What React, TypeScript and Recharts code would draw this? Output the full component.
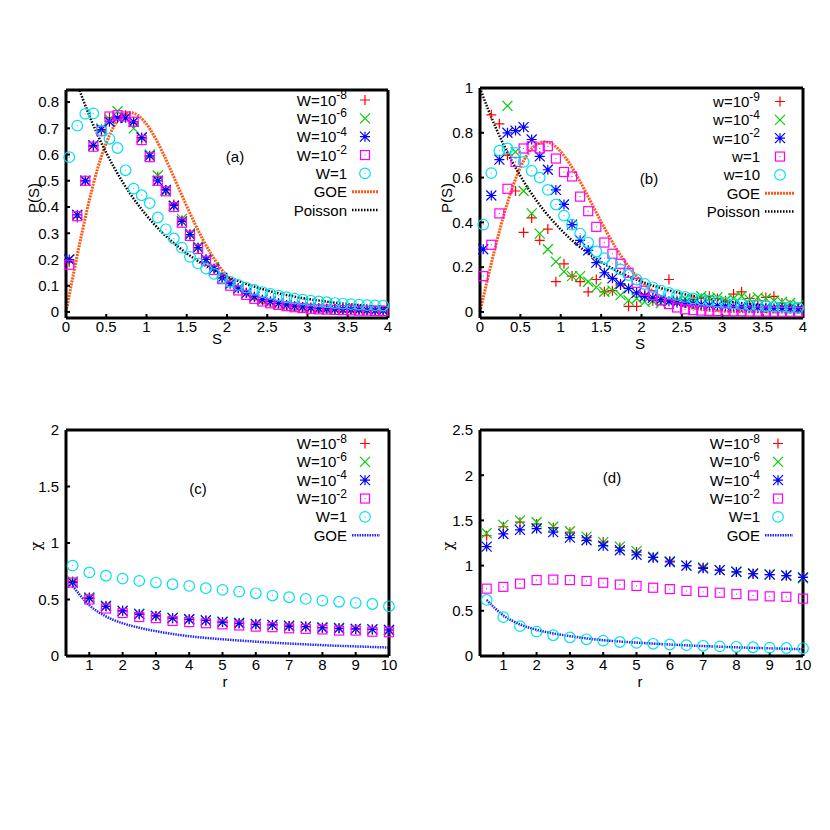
import React from 'react';
import { ComposedChart, Scatter, Line, XAxis, YAxis, Customized } from 'recharts';

const FONT = '"Liberation Sans", Arial, Helvetica, sans-serif';

const RED = '#ff0000';
const GREEN = '#00d000';
const BLUE = '#0000ff';
const MAGENTA = '#ff00ff';
const CYAN = '#00e0f0';
const ORANGE = '#ff5a14';
const GOE_BLUE = '#2222ff';

// level spacing bins, panels (a) and (b)
const S_BINS = [0.04, 0.14, 0.24, 0.34, 0.44, 0.54, 0.64, 0.74, 0.84, 0.94, 1.04, 1.14, 1.24, 1.34, 1.44, 1.54, 1.64, 1.74, 1.84, 1.94,
  2.04, 2.14, 2.24, 2.34, 2.44, 2.54, 2.64, 2.74, 2.84, 2.94, 3.04, 3.14, 3.24, 3.34, 3.44, 3.54, 3.64, 3.74, 3.84, 3.94];

// reference curves
const CURVE_S = [0, 0.1, 0.2, 0.3, 0.4, 0.5, 0.6, 0.7, 0.8, 0.9, 1, 1.1, 1.2, 1.3, 1.4, 1.5, 1.6, 1.7, 1.8, 1.9, 2,
  2.1, 2.2, 2.3, 2.4, 2.5, 2.6, 2.7, 2.8, 2.9, 3, 3.1, 3.2, 3.3, 3.4, 3.5, 3.6, 3.7, 3.8, 3.9, 4];
const GOE_P = [0, 0.156, 0.304, 0.439, 0.554, 0.645, 0.71, 0.748, 0.76, 0.748, 0.716, 0.668, 0.608, 0.542, 0.472, 0.403, 0.337, 0.276, 0.222, 0.175, 0.136,
  0.103, 0.077, 0.057, 0.041, 0.029, 0.02, 0.014, 0.009, 0.006, 0.004, 0.0025, 0.0016, 0.001, 0.0006, 0.0004, 0.0002, 0.0001, 0.0001, 0, 0];
const POISSON_P = [1, 0.905, 0.819, 0.741, 0.67, 0.607, 0.549, 0.497, 0.449, 0.407, 0.368, 0.333, 0.301, 0.273, 0.247, 0.223, 0.202, 0.183, 0.165, 0.15, 0.135,
  0.122, 0.111, 0.1, 0.091, 0.082, 0.074, 0.067, 0.061, 0.055, 0.05, 0.045, 0.041, 0.037, 0.033, 0.03, 0.027, 0.025, 0.022, 0.02, 0.018];
// where the Poisson curve enters the frame of panel (a)
const POISSON_A_ENTRY = { x: 0.17, y: 0.844 };

// panel (a)
const A_W8 = [0.19, 0.36, 0.5, 0.63, 0.69, 0.74, 0.745, 0.75, 0.72, 0.66, 0.59, 0.515, 0.465, 0.41, 0.35, 0.295, 0.245, 0.2, 0.165, 0.13,
  0.11, 0.09, 0.072, 0.058, 0.047, 0.04, 0.033, 0.027, 0.022, 0.019, 0.016, 0.014, 0.012, 0.011, 0.01, 0.009, 0.008, 0.007, 0.006, 0.006];
const A_W6 = [0.2, 0.37, 0.5, 0.635, 0.7, 0.735, 0.765, 0.74, 0.7, 0.665, 0.6, 0.52, 0.46, 0.405, 0.355, 0.3, 0.25, 0.195, 0.17, 0.13,
  0.105, 0.088, 0.07, 0.057, 0.046, 0.039, 0.032, 0.026, 0.022, 0.018, 0.016, 0.013, 0.012, 0.01, 0.009, 0.008, 0.007, 0.007, 0.006, 0.005];
const A_W4 = [0.2, 0.37, 0.5, 0.635, 0.695, 0.725, 0.74, 0.74, 0.725, 0.665, 0.595, 0.5, 0.465, 0.405, 0.345, 0.295, 0.245, 0.2, 0.165, 0.13,
  0.108, 0.09, 0.072, 0.058, 0.047, 0.04, 0.033, 0.027, 0.022, 0.019, 0.016, 0.014, 0.012, 0.011, 0.01, 0.009, 0.008, 0.007, 0.006, 0.006];
const A_W2 = [0.18, 0.365, 0.5, 0.63, 0.69, 0.745, 0.75, 0.745, 0.725, 0.655, 0.59, 0.5, 0.46, 0.4, 0.34, 0.29, 0.24, 0.195, 0.16, 0.125,
  0.1, 0.082, 0.065, 0.05, 0.04, 0.033, 0.027, 0.022, 0.018, 0.015, 0.012, 0.01, 0.009, 0.008, 0.007, 0.006, 0.005, 0.005, 0.004, 0.004];
const A_W1 = [0.59, 0.71, 0.755, 0.757, 0.69, 0.66, 0.625, 0.54, 0.47, 0.445, 0.415, 0.36, 0.315, 0.28, 0.245, 0.21, 0.185, 0.165, 0.145, 0.13,
  0.115, 0.103, 0.093, 0.084, 0.076, 0.069, 0.062, 0.056, 0.051, 0.047, 0.043, 0.04, 0.037, 0.034, 0.032, 0.03, 0.028, 0.026, 0.025, 0.024];

// panel (b)
const B_W9 = [null, 0.88, 0.84, 0.7, 0.54, 0.355, 0.42, 0.32, 0.37, 0.135, 0.215, 0.16, 0.135, 0.09, 0.145, 0.09, 0.095, 0.12, 0.025, 0.025,
  0.08, 0.05, 0.05, 0.145, 0.05, 0.04, 0.055, 0.06, 0.07, 0.06, 0.05, 0.08, 0.09, 0.06, 0.05, 0.065, 0.07, 0.04, 0.03, 0.02];
const B_W4 = [null, null, null, 0.92, 0.715, 0.54, 0.44, 0.35, 0.28, 0.225, 0.18, 0.16, 0.16, 0.135, 0.11, 0.09, 0.095, 0.075, 0.052, 0.06,
  0.045, 0.05, 0.04, 0.045, 0.05, 0.06, 0.055, 0.07, 0.06, 0.065, 0.05, 0.06, 0.07, 0.055, 0.065, 0.06, 0.05, 0.045, 0.04, 0.03];
const B_W2 = [0.28, 0.52, 0.68, 0.8, 0.81, 0.825, 0.77, 0.695, 0.635, 0.545, 0.48, 0.39, 0.32, 0.275, 0.22, 0.175, 0.15, 0.125, 0.105, 0.085,
  0.07, 0.063, 0.055, 0.048, 0.043, 0.04, 0.036, 0.033, 0.03, 0.028, 0.026, 0.024, 0.022, 0.02, 0.019, 0.018, 0.017, 0.016, 0.015, 0.014];
const B_W1 = [0.16, 0.3, 0.44, 0.55, 0.67, 0.73, 0.74, 0.73, 0.74, 0.685, 0.625, 0.605, 0.515, 0.45, 0.38, 0.31, 0.26, 0.215, 0.175, 0.13,
  0.095, 0.075, 0.052, 0.035, 0.02, 0.012, 0.008, 0.006, 0.005, 0.004, 0.004, 0.003, 0.003, 0.002, 0.002, 0.002, 0.001, 0.001, 0.001, 0.001];
const B_W10 = [0.39, 0.62, 0.72, 0.73, 0.71, 0.67, 0.63, 0.6, 0.545, 0.48, 0.43, 0.39, 0.35, 0.31, 0.27, 0.24, 0.215, 0.19, 0.165, 0.145,
  0.125, 0.11, 0.095, 0.085, 0.075, 0.067, 0.06, 0.055, 0.05, 0.045, 0.04, 0.037, 0.034, 0.03, 0.028, 0.026, 0.024, 0.022, 0.02, 0.018];

// panels (c) and (d): chi(r)
const R_VALS = [0.5, 1, 1.5, 2, 2.5, 3, 3.5, 4, 4.5, 5, 5.5, 6, 6.5, 7, 7.5, 8, 8.5, 9, 9.5, 10];
const GOE_CHI = [0.62, 0.45, 0.35, 0.29, 0.25, 0.22, 0.195, 0.175, 0.16, 0.148, 0.137, 0.127, 0.118, 0.11, 0.103, 0.096, 0.09, 0.085, 0.08, 0.075];

const C_W8 = [0.66, 0.52, 0.44, 0.4, 0.37, 0.355, 0.335, 0.325, 0.315, 0.3, 0.29, 0.28, 0.275, 0.265, 0.26, 0.25, 0.245, 0.24, 0.235, 0.23];
const C_W6 = [0.66, 0.52, 0.445, 0.4, 0.375, 0.355, 0.34, 0.325, 0.315, 0.305, 0.295, 0.285, 0.275, 0.27, 0.26, 0.255, 0.25, 0.24, 0.235, 0.23];
const C_W4 = [0.65, 0.51, 0.44, 0.4, 0.37, 0.355, 0.335, 0.325, 0.315, 0.3, 0.29, 0.28, 0.275, 0.265, 0.26, 0.25, 0.245, 0.24, 0.235, 0.23];
const C_W2 = [0.65, 0.5, 0.42, 0.38, 0.345, 0.335, 0.31, 0.3, 0.29, 0.28, 0.27, 0.26, 0.255, 0.245, 0.24, 0.235, 0.225, 0.225, 0.215, 0.21];
const C_W1 = [0.8, 0.74, 0.71, 0.685, 0.665, 0.65, 0.635, 0.62, 0.6, 0.585, 0.57, 0.555, 0.535, 0.52, 0.505, 0.49, 0.48, 0.47, 0.46, 0.44];

const D_W8 = [1.33, 1.43, 1.48, 1.46, 1.42, 1.37, 1.31, 1.26, 1.2, 1.15, 1.09, 1.05, 1.0, 0.98, 0.95, 0.93, 0.91, 0.9, 0.89, 0.87];
const D_W6 = [1.36, 1.45, 1.5, 1.48, 1.43, 1.38, 1.32, 1.26, 1.21, 1.16, 1.1, 1.05, 1.0, 0.98, 0.95, 0.935, 0.915, 0.905, 0.89, 0.86];
const D_W4 = [1.21, 1.35, 1.395, 1.41, 1.37, 1.31, 1.28, 1.22, 1.17, 1.12, 1.09, 1.04, 1.0, 0.97, 0.95, 0.93, 0.91, 0.9, 0.89, 0.87];
const D_W2 = [0.745, 0.765, 0.8, 0.84, 0.845, 0.84, 0.83, 0.81, 0.79, 0.775, 0.755, 0.74, 0.72, 0.71, 0.7, 0.685, 0.67, 0.66, 0.655, 0.635];
const D_W1 = [0.62, 0.43, 0.33, 0.27, 0.23, 0.205, 0.185, 0.17, 0.155, 0.145, 0.135, 0.127, 0.12, 0.113, 0.107, 0.102, 0.097, 0.093, 0.089, 0.085];

// ticks
const S_TICKS = [0, 0.5, 1, 1.5, 2, 2.5, 3, 3.5, 4];
const PA_TICKS = [0, 0.1, 0.2, 0.3, 0.4, 0.5, 0.6, 0.7, 0.8];
const PB_TICKS = [0, 0.2, 0.4, 0.6, 0.8, 1];
const R_TICKS = [1, 2, 3, 4, 5, 6, 7, 8, 9, 10];
const CHI_C_TICKS = [0, 0.5, 1, 1.5, 2];
const CHI_D_TICKS = [0, 0.5, 1, 1.5, 2, 2.5];

type Pt = { x: number; y: number };
type Kind = 'plus' | 'cross' | 'star' | 'square' | 'circle';

const zip = (xs: number[], ys: (number | null)[]): Pt[] =>
  xs.map((x, i) => ({ x, y: ys[i] as number })).filter((p) => p.y != null);

const drawMarker = (kind: Kind, color: string, cx: number, cy: number, key?: string) => {
  const h = 5;
  const sw = 1.2;
  const plus = `M${cx - h},${cy}H${cx + h}M${cx},${cy - h}V${cy + h}`;
  const cross = `M${cx - h},${cy - h}L${cx + h},${cy + h}M${cx - h},${cy + h}L${cx + h},${cy - h}`;
  if (kind === 'plus') return <path key={key} d={plus} stroke={color} strokeWidth={sw} fill="none" />;
  if (kind === 'cross') return <path key={key} d={cross} stroke={color} strokeWidth={sw} fill="none" />;
  if (kind === 'star') return <path key={key} d={plus + cross} stroke={color} strokeWidth={sw} fill="none" />;
  if (kind === 'square')
    return (
      <g key={key}>
        <rect x={cx - 4.5} y={cy - 4.5} width={9} height={9} stroke={color} strokeWidth={sw} fill="none" />
        <circle cx={cx} cy={cy} r={0.6} fill={color} />
      </g>
    );
  return (
    <g key={key}>
      <circle cx={cx} cy={cy} r={5.3} stroke={color} strokeWidth={sw} fill="none" />
      <circle cx={cx} cy={cy} r={0.6} fill={color} />
    </g>
  );
};

const shapeOf = (kind: Kind, color: string) => (props: any) => {
  if (props.cx == null || props.cy == null) return <g />;
  return drawMarker(kind, color, props.cx, props.cy);
};

type Series = { label: string; sup?: string; kind: Kind; color: string; data: Pt[] };
type Curve = { label: string; color: string; width: number; dash: string; data: Pt[] };

type PanelProps = {
  box: { left: number; top: number; right: number; bottom: number };
  xDomain: [number, number];
  yDomain: [number, number];
  xTicks: number[];
  yTicks: number[];
  series: Series[];
  curves: Curve[];
  legend: { textRight: number; mark: number; lineFrom: number; lineTo: number; top: number };
  tag: { text: string; x: number; y: number };
  yLabel: { text: string; x: number; y: number; font?: string };
  xLabel: { text: string; x: number; y: number };
};

const textStyle = { fill: '#000', fontSize: 15, fontFamily: FONT };
const frame = { stroke: '#000', strokeWidth: 3 };
const tickMark = { stroke: '#000', strokeWidth: 2 };
const noLabel = () => <g />;

const Panel = ({ box, xDomain, yDomain, xTicks, yTicks, series, curves, legend, tag, yLabel, xLabel }: PanelProps) => {
  const rowH = 18.35;
  const overlay = () => (
    <g fontFamily={FONT} fontSize={15} fill="#000">
      {series.map((s, i) => {
        const y = legend.top + i * rowH;
        return (
          <g key={s.label + (s.sup || '')}>
            <text x={legend.textRight} y={y} textAnchor="end" dominantBaseline="central">
              {s.label}
              {s.sup && (
                <tspan dy={-5} fontSize={12}>
                  {s.sup}
                </tspan>
              )}
            </text>
            {drawMarker(s.kind, s.color, legend.mark, y)}
          </g>
        );
      })}
      {curves.map((c, j) => {
        const y = legend.top + (series.length + j) * rowH;
        return (
          <g key={c.label}>
            <text x={legend.textRight} y={y} textAnchor="end" dominantBaseline="central">
              {c.label}
            </text>
            <line x1={legend.lineFrom} x2={legend.lineTo} y1={y} y2={y} stroke={c.color} strokeWidth={c.width} strokeDasharray={c.dash} />
          </g>
        );
      })}
      <text x={tag.x} y={tag.y} textAnchor="middle" dominantBaseline="central">
        {tag.text}
      </text>
      <text
        x={yLabel.x}
        y={yLabel.y}
        textAnchor="middle"
        dominantBaseline="central"
        fontFamily={yLabel.font || FONT}
        transform={`rotate(-90 ${yLabel.x} ${yLabel.y})`}
      >
        {yLabel.text}
      </text>
      <text x={xLabel.x} y={xLabel.y} textAnchor="middle" dominantBaseline="central">
        {xLabel.text}
      </text>
    </g>
  );

  // the axes take 1px each, so the margins are 1px smaller than the frame position
  return (
    <div style={{ position: 'absolute', left: 0, top: 0 }}>
      <ComposedChart
        width={830}
        height={830}
        margin={{ top: box.top - 1, left: box.left - 1, right: 830 - box.right - 1, bottom: 830 - box.bottom - 1 }}
      >
        <XAxis dataKey="x" type="number" domain={xDomain} ticks={xTicks} interval={0} height={1}
          tickSize={-4} tickMargin={7} axisLine={frame} tickLine={tickMark} tick={textStyle} />
        <XAxis xAxisId="top" orientation="top" dataKey="x" type="number" domain={xDomain} ticks={xTicks} interval={0} height={1}
          tickSize={-4} axisLine={frame} tickLine={tickMark} tick={noLabel} />
        <YAxis dataKey="y" type="number" domain={yDomain} ticks={yTicks} interval={0} width={1}
          tickSize={-4} tickMargin={11} axisLine={frame} tickLine={tickMark} tick={textStyle} />
        <YAxis yAxisId="right" orientation="right" type="number" domain={yDomain} ticks={yTicks} interval={0} width={1}
          tickSize={-4} axisLine={frame} tickLine={tickMark} tick={noLabel} />
        {series.map((s) => (
          <Scatter key={s.label + (s.sup || '')} data={s.data} dataKey="y" shape={shapeOf(s.kind, s.color)} isAnimationActive={false} />
        ))}
        {curves.map((c) => (
          <Line key={c.label} data={c.data} dataKey="y" type="monotone" stroke={c.color} strokeWidth={c.width}
            strokeDasharray={c.dash} dot={false} activeDot={false} isAnimationActive={false} />
        ))}
        <Customized component={overlay} />
      </ComposedChart>
    </div>
  );
};

const goeCurve = (color: string, data: Pt[]): Curve => ({ label: 'GOE', color, width: 3, dash: '2 1', data });

const App = () => {
  const aY: [number, number] = [-0.023, 0.846];
  const poissonA = [POISSON_A_ENTRY, ...zip(CURVE_S, POISSON_P).filter((p) => p.y <= aY[1])];

  return (
    <div style={{ position: 'absolute', left: 0, top: 0, width: 830, height: 830, background: '#fff' }}>
      <Panel
        box={{ left: 66, top: 90, right: 388, bottom: 318 }}
        xDomain={[0, 4]}
        yDomain={aY}
        xTicks={S_TICKS}
        yTicks={PA_TICKS}
        series={[
          { label: 'W=10', sup: '-8', kind: 'plus', color: RED, data: zip(S_BINS, A_W8) },
          { label: 'W=10', sup: '-6', kind: 'cross', color: GREEN, data: zip(S_BINS, A_W6) },
          { label: 'W=10', sup: '-4', kind: 'star', color: BLUE, data: zip(S_BINS, A_W4) },
          { label: 'W=10', sup: '-2', kind: 'square', color: MAGENTA, data: zip(S_BINS, A_W2) },
          { label: 'W=1', kind: 'circle', color: CYAN, data: zip(S_BINS, A_W1) },
        ]}
        curves={[
          goeCurve(ORANGE, zip(CURVE_S, GOE_P)),
          { label: 'Poisson', color: '#000', width: 2.5, dash: '1.5 1.5', data: poissonA },
        ]}
        legend={{ textRight: 347, mark: 365, lineFrom: 352, lineTo: 378, top: 100 }}
        tag={{ text: '(a)', x: 235, y: 156 }}
        yLabel={{ text: 'P(S)', x: 33, y: 198 }}
        xLabel={{ text: 'S', x: 217, y: 338 }}
      />
      <Panel
        box={{ left: 480, top: 88, right: 803, bottom: 318 }}
        xDomain={[0, 4]}
        yDomain={[-0.027, 1]}
        xTicks={S_TICKS}
        yTicks={PB_TICKS}
        series={[
          { label: 'w=10', sup: '-9', kind: 'plus', color: RED, data: zip(S_BINS, B_W9) },
          { label: 'w=10', sup: '-4', kind: 'cross', color: GREEN, data: zip(S_BINS, B_W4) },
          { label: 'w=10', sup: '-2', kind: 'star', color: BLUE, data: zip(S_BINS, B_W2) },
          { label: 'w=1', kind: 'square', color: MAGENTA, data: zip(S_BINS, B_W1) },
          { label: 'w=10', kind: 'circle', color: CYAN, data: zip(S_BINS, B_W10) },
        ]}
        curves={[
          goeCurve(ORANGE, zip(CURVE_S, GOE_P)),
          { label: 'Poisson', color: '#000', width: 2.5, dash: '1.5 1.5', data: zip(CURVE_S, POISSON_P) },
        ]}
        legend={{ textRight: 760, mark: 780, lineFrom: 765, lineTo: 794, top: 101.5 }}
        tag={{ text: '(b)', x: 649, y: 178 }}
        yLabel={{ text: 'P(S)', x: 446, y: 198 }}
        xLabel={{ text: 'S', x: 640, y: 343 }}
      />
      <Panel
        box={{ left: 66, top: 430, right: 389, bottom: 656 }}
        xDomain={[0.3, 10]}
        yDomain={[0, 2]}
        xTicks={R_TICKS}
        yTicks={CHI_C_TICKS}
        series={[
          { label: 'W=10', sup: '-8', kind: 'plus', color: RED, data: zip(R_VALS, C_W8) },
          { label: 'W=10', sup: '-6', kind: 'cross', color: GREEN, data: zip(R_VALS, C_W6) },
          { label: 'W=10', sup: '-4', kind: 'star', color: BLUE, data: zip(R_VALS, C_W4) },
          { label: 'W=10', sup: '-2', kind: 'square', color: MAGENTA, data: zip(R_VALS, C_W2) },
          { label: 'W=1', kind: 'circle', color: CYAN, data: zip(R_VALS, C_W1) },
        ]}
        curves={[{ label: 'GOE', color: GOE_BLUE, width: 2.5, dash: '1.5 1', data: zip(R_VALS, GOE_CHI) }]}
        legend={{ textRight: 347, mark: 365, lineFrom: 352, lineTo: 380, top: 443.5 }}
        tag={{ text: '(c)', x: 198, y: 488 }}
        yLabel={{ text: 'χ', x: 36, y: 546, font: '"DejaVu Serif", serif' }}
        xLabel={{ text: 'r', x: 225, y: 681 }}
      />
      <Panel
        box={{ left: 480, top: 430, right: 803, bottom: 656 }}
        xDomain={[0.3, 10]}
        yDomain={[0, 2.5]}
        xTicks={R_TICKS}
        yTicks={CHI_D_TICKS}
        series={[
          { label: 'W=10', sup: '-8', kind: 'plus', color: RED, data: zip(R_VALS, D_W8) },
          { label: 'W=10', sup: '-6', kind: 'cross', color: GREEN, data: zip(R_VALS, D_W6) },
          { label: 'W=10', sup: '-4', kind: 'star', color: BLUE, data: zip(R_VALS, D_W4) },
          { label: 'W=10', sup: '-2', kind: 'square', color: MAGENTA, data: zip(R_VALS, D_W2) },
          { label: 'W=1', kind: 'circle', color: CYAN, data: zip(R_VALS, D_W1) },
        ]}
        curves={[{ label: 'GOE', color: GOE_BLUE, width: 2.5, dash: '1.5 1', data: zip(R_VALS, GOE_CHI) }]}
        legend={{ textRight: 760, mark: 778, lineFrom: 765, lineTo: 793, top: 443.5 }}
        tag={{ text: '(d)', x: 612, y: 477 }}
        yLabel={{ text: 'χ', x: 448, y: 546, font: '"DejaVu Serif", serif' }}
        xLabel={{ text: 'r', x: 640, y: 681 }}
      />
    </div>
  );
};

export default App;
